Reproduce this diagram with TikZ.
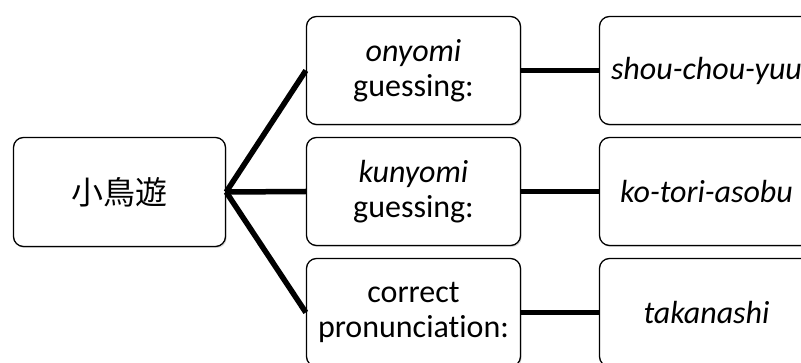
\documentclass[tikz,border=0pt]{standalone}
\usepackage{fontspec}
\setmainfont{Carlito}[RawFeature={-liga;-dlig}]
\newfontfamily\jpfont{Noto Sans CJK JP}
\usetikzlibrary{shadows}
\begin{document}
\begin{tikzpicture}[x=1pt,y=-1pt,
  box/.style={draw, line width=1.3pt, rounded corners=10pt, fill=white,
    minimum width=214pt, minimum height=108pt, align=center, inner sep=0pt,
    font=\fontsize{32}{35}\selectfont,
    drop shadow={shadow xshift=1.2pt, shadow yshift=-1.5pt, opacity=0.3}},
  link/.style={line width=5.5pt}]
\clip (0,0) rectangle (801,363);
% root kanji
\node[box, minimum width=212pt, minimum height=109pt] (root) at (119.5,192) {{\jpfont 小鳥遊}};
% reading strategies
\node[box] (on)  at (413.5,70.5)  {\textit{onyomi}\\guessing:};
\node[box] (kun) at (413.5,191.5) {\textit{kunyomi}\\guessing:};
\node[box] (cor) at (413.5,312.5) {correct\\pronunciation:};
% resulting readings
\node[box] (ron)  at (706.5,70.5)  {\textit{shou-chou-yuu}};
\node[box] (rkun) at (706.5,191.5) {\textit{ko-tori-asobu}};
\node[box] (rcor) at (706.5,312.5) {\textit{takanashi}};
% connectors
\draw[link] (root.east) -- (on.west);
\draw[link] (root.east) -- (kun.west);
\draw[link] (root.east) -- (cor.west);
\draw[link] (on.east) -- (ron.west);
\draw[link] (kun.east) -- (rkun.west);
\draw[link] (cor.east) -- (rcor.west);
\end{tikzpicture}
\end{document}
